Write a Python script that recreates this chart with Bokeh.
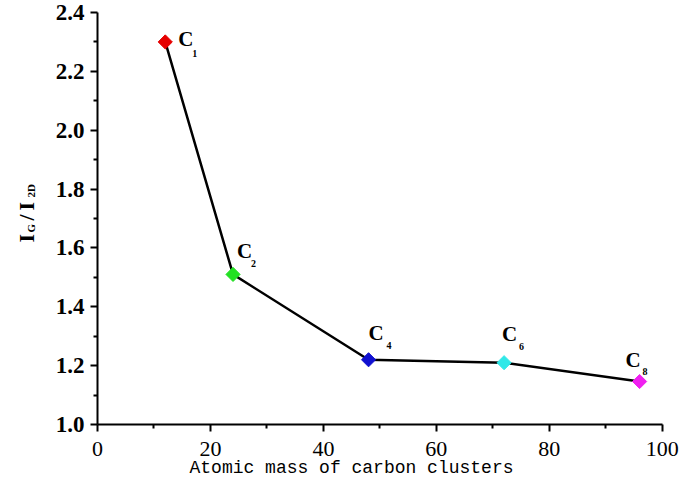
import math
from bokeh.plotting import figure
from bokeh.models import Range1d, FixedTicker, PrintfTickFormatter, ColumnDataSource
from bokeh.core.properties import value
from bokeh.embed import file_html
from bokeh.resources import INLINE

# ---- data ----
mass = [12, 24, 48, 72, 96]
ratio = [2.30, 1.51, 1.22, 1.21, 1.146]
cluster = ["C", "C", "C", "C", "C"]
subs = ["1", "2", "4", "6", "8"]
colors = ["#e60000", "#22e022", "#1010d0", "#30e8e8", "#f020f0"]
x_ticks = [0, 20, 40, 60, 80, 100]
x_minor = [10, 30, 50, 70, 90]
y_ticks = [1.0, 1.2, 1.4, 1.6, 1.8, 2.0, 2.2, 2.4]
y_minor = [1.1, 1.3, 1.5, 1.7, 1.9, 2.1, 2.3]
x_title = "Atomic mass of carbon clusters"
y_title_main = ["I", "/", "I"]
y_title_sub = ["G", "2D"]

# label offsets (screen px) relative to each point
c_dx = [13, 4, 0, -2, -14]
c_dy = [-3, -23, -27, -29, -22]
s_dx = [27, 18, 18, 15, 3]
s_dy = [12, -11, -14, -16, -10]

W, H = 685, 486
# frame geometry: x=0 at px 97, x=100 at px 661.7 ; y=2.4 at px 12, y=1.0 at px 424
X0, X1, Y0PX, Y1PX = 97.0, 661.7, 424.0, 12.0
sx = (X1 - X0) / 100.0
sy = (Y0PX - Y1PX) / 1.4
xr = Range1d(-X0 / sx, 100 + (W - X1) / sx)
yr = Range1d(1.0 - (H - Y0PX) / sy, 2.4 + Y1PX / sy)

def px2x(px):
    return xr.start + px / sx

def py2y(py):
    return yr.end - py / sy

p = figure(width=W, height=H, output_backend="svg", toolbar_location=None,
           x_range=xr, y_range=yr, min_border=0)
p.outline_line_color = None
p.xgrid.visible = False
p.ygrid.visible = False
p.background_fill_color = "white"

p.xaxis.ticker = FixedTicker(ticks=x_ticks, minor_ticks=x_minor)
p.yaxis.ticker = FixedTicker(ticks=y_ticks, minor_ticks=y_minor)
p.yaxis.formatter = PrintfTickFormatter(format="%.1f")
p.xaxis.formatter = PrintfTickFormatter(format="%d")
p.xaxis.fixed_location = 1.0
p.yaxis.fixed_location = 0
p.xaxis.bounds = (0, 100)
p.yaxis.bounds = (1.0, 2.4)

for ax in (p.xaxis, p.yaxis):
    ax.axis_line_width = 2
    ax.axis_line_color = "black"
    ax.major_tick_line_width = 2
    ax.minor_tick_line_width = 2
    ax.major_tick_line_color = "black"
    ax.minor_tick_line_color = "black"
    ax.major_tick_in = 0
    ax.major_tick_out = 7
    ax.minor_tick_in = 0
    ax.minor_tick_out = 4
    ax.major_label_text_font = "Liberation Serif"
    ax.major_label_text_color = "black"

p.yaxis.major_label_text_font_size = "23px"
p.yaxis.major_label_text_font_style = "bold"
p.yaxis.major_label_standoff = 6
p.xaxis.major_label_text_font_size = "22px"
p.xaxis.major_label_standoff = 10

src = ColumnDataSource(dict(x=mass, y=ratio, c=colors, t=cluster, s=subs,
                            cdx=c_dx, cdy=c_dy, sdx=s_dx, sdy=s_dy))

p.line("x", "y", source=src, line_color="black", line_width=2.5)
p.scatter("x", "y", source=src, marker="square", angle=math.pi / 4, size=10,
          fill_color="c", line_color="c")

p.text("x", "y", text="t", source=src, x_offset="cdx", y_offset="cdy",
       text_font=value("Liberation Serif"), text_font_style="bold", text_font_size="21px",
       text_align="left", text_baseline="middle", text_color="black")
p.text("x", "y", text="s", source=src, x_offset="sdx", y_offset="sdy",
       text_font=value("Liberation Serif"), text_font_style="bold", text_font_size="10px",
       text_align="left", text_baseline="middle", text_color="black")

# x-axis title
p.text(x=[px2x(351)], y=[py2y(467)], text=[x_title],
       text_font=value("Liberation Mono"), text_font_size="18px", text_color="black",
       text_align="center", text_baseline="middle")

# y-axis title I_G / I_2D (rotated, reading upward)
main_py = [242, 220, 210]
sub_py = [232, 197]
p.text(x=[px2x(26)] * 3, y=[py2y(v) for v in main_py], text=y_title_main, angle=math.pi / 2,
       text_font=value("Liberation Serif"), text_font_style="bold", text_font_size="22px",
       text_color="black", text_align="left", text_baseline="alphabetic")
p.text(x=[px2x(30)] * 2, y=[py2y(v) for v in sub_py], text=y_title_sub, angle=math.pi / 2,
       text_font=value("Liberation Serif"), text_font_style="bold", text_font_size="11px",
       text_color="black", text_align="left", text_baseline="alphabetic")

open("out.html", "w").write(file_html(p, INLINE))
